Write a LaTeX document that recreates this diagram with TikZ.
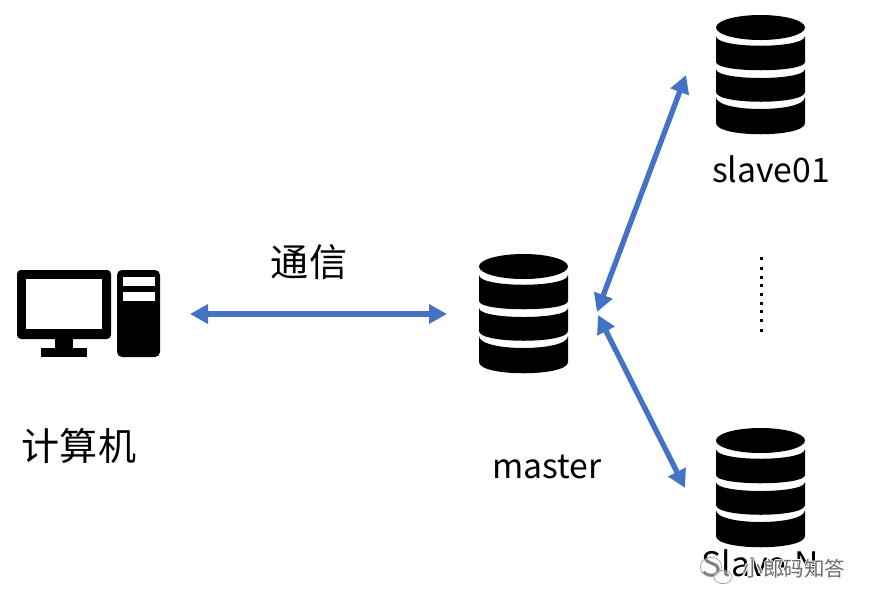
\documentclass[tikz,border=0pt]{standalone}
\usepackage{fontspec}
\setmainfont{Noto Sans CJK SC}
\usetikzlibrary{arrows.meta}
\definecolor{linkblue}{HTML}{4472C4}
\definecolor{markgray}{HTML}{6E6E6E}
\tikzset{
	label/.style={inner sep=0pt,font=\fontsize{28.8}{30}\selectfont},
	cjklabel/.style={inner sep=0pt,font=\fontsize{32.5}{34}\selectfont},
	link/.style={linkblue,line width=0.16cm,{Triangle[length=0.54cm,width=0.56cm]}-{Triangle[length=0.54cm,width=0.56cm]}},
	bubble/.style={markgray!70,line width=0.02cm,fill=white,fill opacity=0.5},
	database/.pic={
		\fill (0,12.5) ellipse[x radius=1.335cm,y radius=0.375cm];
		\fill (-44.5,21) .. controls (-44.5,34) and (44.5,34) .. (44.5,21) -- (44.5,47) .. controls (44.5,58) and (-44.5,58) .. (-44.5,47) -- cycle;
		\fill (-44.5,54) .. controls (-44.5,66) and (44.5,66) .. (44.5,54) -- (44.5,77) .. controls (44.5,90) and (-44.5,90) .. (-44.5,77) -- cycle;
		\fill (-44.5,82) .. controls (-44.5,98) and (44.5,98) .. (44.5,82) -- (44.5,108) .. controls (44.5,123) and (-44.5,123) .. (-44.5,108) -- cycle;
		\fill[white] (30.5,41) circle (0.09);
		\fill[white] (30.5,72) circle (0.09);
		\fill[white] (30.5,104) circle (0.09);
	}
}
\newcommand{\markhalo}[3]{\rlap{\hspace{#1}\raisebox{#2}{\textcolor{white}{#3}}}}
\newcommand{\marktext}{小郎码知答}
\begin{document}
\begin{tikzpicture}[x=0.03cm,y=-0.03cm]
		\useasboundingbox (0,0) rectangle (873,608);
		% computer
		\fill[rounded corners=0.12cm] (17,270) rectangle (111,339);
		\fill[white] (26,279) rectangle (102,329);
		\fill (55,339) rectangle (73,348);
		\fill (41,348) rectangle (87,357);
		\fill[rounded corners=0.15cm] (117,270) rectangle (160,357);
		\fill[white] (123,277) rectangle (155,286);
		\fill[white] (123,292) rectangle (155,301);
		\fill[white] (139,344) circle (0.135);
		% databases
		\pic at (523.5,254) {database};
		\pic at (760.5,15) {database};
		\pic at (760.5,428) {database};
		\node[cjklabel] (computer) at (79,446) {计算机};
		\node[cjklabel] (comm) at (309,262) {通信};
		\node[label] (master) at (547,467) {master};
		\node[label] (slave01) at (771,169) {slave01};
		\node[label] (slaveN) at (760,563) {Slave N};
		% link ends
		\coordinate (pcend) at (190,314);
		\coordinate (mwest) at (447,314);
		\coordinate (mup) at (597,312);
		\coordinate (mdown) at (598,315);
		\coordinate (supper) at (686,75);
		\coordinate (slower) at (685,488);
		\draw[link] (pcend) -- (mwest);
		\draw[link] (mup) -- (supper);
		\draw[link] (mdown) -- (slower);
		\foreach \dotpos in {258.7,268,277.5,285,294,303.7,311,320.7,330}
			\fill (759.5,\dotpos-1.5) rectangle (762.5,\dotpos+1.5);
		% watermark
		\draw[bubble] (711,567) ellipse[x radius=0.32cm,y radius=0.29cm];
		\draw[bubble] (723,577) ellipse[x radius=0.27cm,y radius=0.2cm];
		\node[inner sep=0pt,font=\fontsize{17.5}{18}\selectfont,text=markgray] (mark) at (794,569) {\markhalo{1pt}{0pt}{\marktext}\markhalo{-1pt}{0pt}{\marktext}\markhalo{0pt}{1pt}{\marktext}\markhalo{0pt}{-1pt}{\marktext}\marktext};
		\end{tikzpicture}
\end{document}
